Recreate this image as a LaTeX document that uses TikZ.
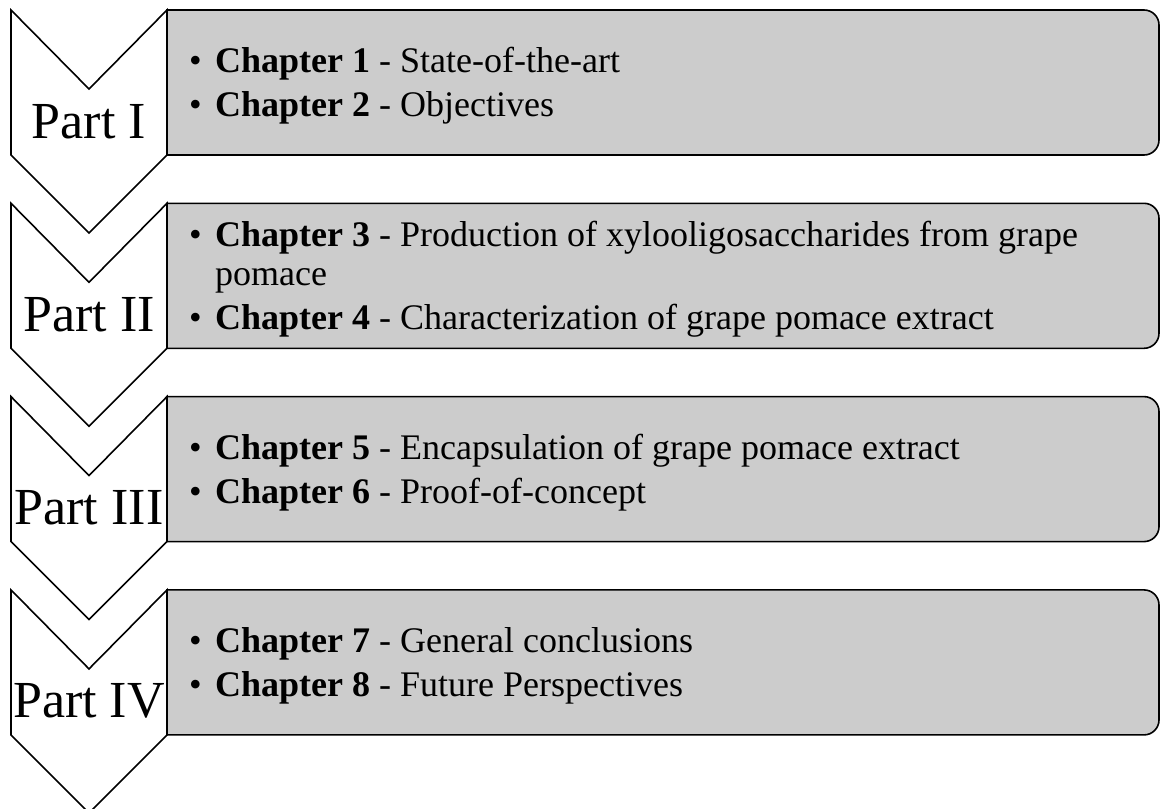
\documentclass[tikz,border=0pt]{standalone}
\usepackage{fontspec}
\setmainfont{Liberation Serif}
\usetikzlibrary{positioning}

\definecolor{boxgray}{gray}{0.8}

\tikzset{%
  part chevron/.style={
    draw,
    fill=white,
    line width=1.6pt,
    line join=miter
  },
  chapter box/.style={
    draw,
    fill=boxgray,
    line width=1.6pt
  },
  part label/.style={
    anchor=base,
    inner sep=0pt,
    font=\fontsize{52}{60}\selectfont
  },
  chapter list/.style={
    anchor=west,
    inner sep=0pt,
    align=left,
    font=\fontsize{36}{39}\selectfont
  },
}

\newcommand{\chapitem}[2]{\makebox[26pt][l]{\textbullet}\textbf{Chapter #1} - #2}
\newcommand{\chapcont}[1]{\hspace*{26pt}#1}

\begin{document}
\begin{tikzpicture}[x=1pt, y=-1pt]

\useasboundingbox (0,0) rectangle (1160,809);

\foreach \l [count=\i from 0] in {I,II,III,IV} {
  \pgfmathsetmacro\ytop{10+193.3*\i}
  \draw [chapter box] (167,\ytop) [rounded corners=15pt] -- (1159,\ytop)
    -- (1159,\ytop+145) [sharp corners] -- (167,\ytop+145) -- cycle;
  \draw [part chevron] (11,\ytop) -- ++(78,79) -- ++(78,-79) -- ++(0,145)
    -- ++(-78,78) -- ++(-78,-78) -- cycle;
  \node [part label] (part-\i) at (89,\ytop+128) {Part \l};
  \coordinate (box-\i) at (189,\ytop+76);
}

\node [chapter list] (chapters-0) at (box-0)
  {\chapitem{1}{State-of-the-art}\\[5pt]
   \chapitem{2}{Objectives}};

\node [chapter list] (chapters-1) at (box-1)
  {\chapitem{3}{Production of xylooligosaccharides from grape}\\
   \chapcont{pomace}\\[5pt]
   \chapitem{4}{Characterization of grape pomace extract}};

\node [chapter list] (chapters-2) at (box-2)
  {\chapitem{5}{Encapsulation of grape pomace extract}\\[5pt]
   \chapitem{6}{Proof-of-concept}};

\node [chapter list] (chapters-3) at (box-3)
  {\chapitem{7}{General conclusions}\\[5pt]
   \chapitem{8}{Future Perspectives}};

\end{tikzpicture}
\end{document}
